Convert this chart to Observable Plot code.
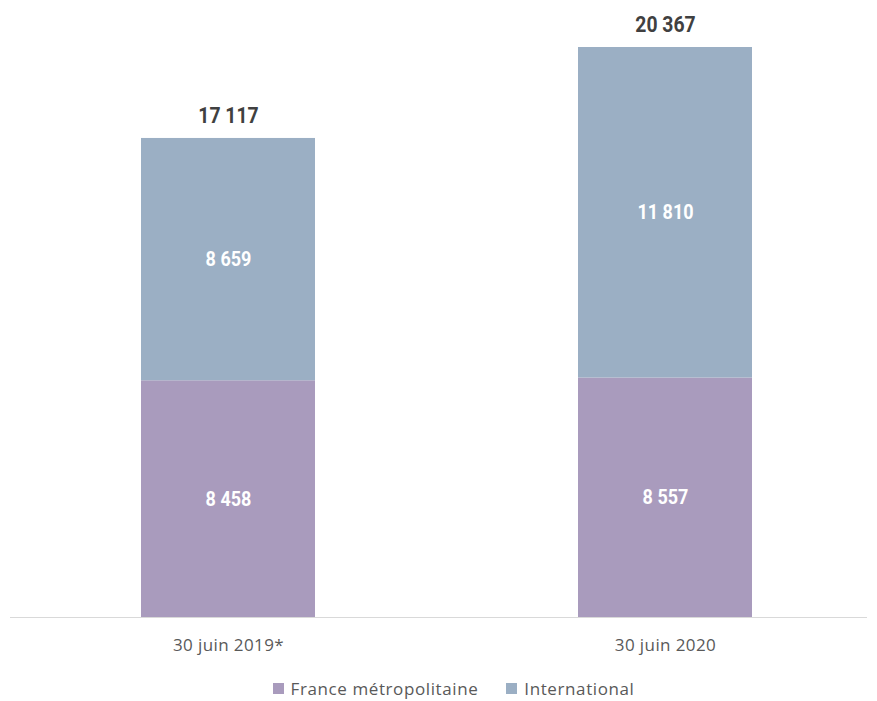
<!DOCTYPE html>
<html><head><meta charset="utf-8">
<script src="https://cdn.jsdelivr.net/npm/d3@7"></script>
<script src="https://cdn.jsdelivr.net/npm/@observablehq/plot@0.6"></script>
<style>
body{margin:0;background:#fff;font-family:"Open Sans",sans-serif;}
#legend{display:flex;justify-content:center;align-items:center;gap:28px;padding-left:30px;margin-top:12px;font-size:17px;letter-spacing:0.6px;color:#595959;}
#legend span.sw{display:inline-block;width:11px;height:11px;margin-right:7px;}
g[aria-label="x-axis tick label"] text{letter-spacing:0.4px;}
</style></head>
<body>
<div id="chart"></div>
<div id="legend"></div>
<script>
const categories = ["30 juin 2019*", "30 juin 2020"];
const seriesNames = ["France métropolitaine", "International"];
const france = [8458, 8557];
const international = [8659, 11810];
const totals = [17117, 20367];
const colors = ["#a99bbd", "#9bafc4"];

const fmt = d3.formatLocale({decimal: ",", thousands: " ", grouping: [3], currency: ["", ""]}).format(",");

const rows = [];
categories.forEach((c, i) => {
  rows.push({cat: c, series: seriesNames[0], value: france[i]});
  rows.push({cat: c, series: seriesNames[1], value: international[i]});
});
const totalRows = categories.map((c, i) => ({cat: c, total: totals[i]}));

const numFont = "'Liberation Sans Narrow','Arial Narrow',Roboto,sans-serif";

const chart = Plot.plot({
  width: 877,
  height: 665,
  marginTop: 47,
  marginBottom: 48,
  marginLeft: 10,
  marginRight: 10,
  style: {fontFamily: "'Open Sans',sans-serif", background: "#fff"},
  x: {domain: categories, paddingInner: 0.602, paddingOuter: 0.2815, align: 0.533, label: null},
  y: {domain: [0, d3.max(totals)], axis: null},
  color: {domain: seriesNames, range: colors},
  marks: [
    Plot.barY(rows, Plot.stackY({x: "cat", y: "value", fill: "series", order: seriesNames})),
    Plot.text(rows, Plot.stackY({x: "cat", y: "value", z: "series", order: seriesNames, text: d => fmt(d.value), fill: "white", fontSize: 20, fontWeight: "bold", fontFamily: numFont})),
    Plot.text(totalRows, {x: "cat", y: "total", text: d => fmt(d.total), dy: -22, fill: "#404040", fontSize: 21.5, fontWeight: "bold", fontFamily: numFont}),
    Plot.ruleY([0], {stroke: "#d9d9d9", strokeWidth: 1.2}),
    Plot.axisX({tickSize: 0, tickPadding: 21, fontSize: 17, color: "#595959", label: null})
  ]
});
document.getElementById("chart").appendChild(chart);

// Narrow the bold value labels horizontally around their own centre (no narrow font installed)
chart.querySelectorAll('g[aria-label="text"] text').forEach(el => {
  const b = el.getBBox();
  const cx = b.x + b.width / 2;
  const t = el.getAttribute("transform") || "";
  el.setAttribute("transform", `${t} translate(${cx},0) scale(0.9,1) translate(${-cx},0)`.trim());
});

const legend = document.getElementById("legend");
seriesNames.forEach((s, i) => {
  const item = document.createElement("div");
  item.style.display = "flex";
  item.style.alignItems = "center";
  item.innerHTML = `<span class="sw" style="background:${colors[i]}"></span>${s}`;
  legend.appendChild(item);
});
</script>
</body></html>
